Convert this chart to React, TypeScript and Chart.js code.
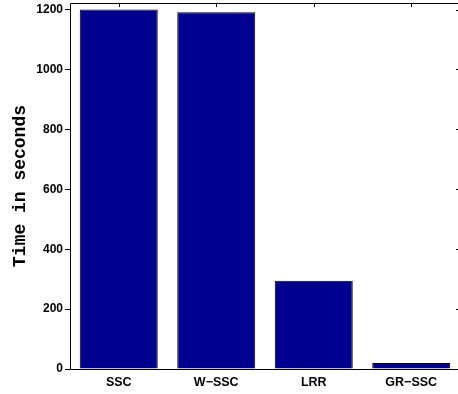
import React, { useEffect, useRef } from "react";
import { Chart, registerables } from "chart.js";

Chart.register(...registerables);

const categories = ["SSC", "W\u2212SSC", "LRR", "GR\u2212SSC"];
const timeSeconds = [1200, 1191, 295, 20];
const yTicks = [0, 200, 400, 600, 800, 1000, 1200];
const yMax = 1222;
const yTitle = "Time in seconds";

const W = 462;
const H = 394;
const LEFT = 70;
const BOTTOM_AXIS_H = 25;

const framePlugin = {
  id: "frame",
  afterDraw(chart: any) {
    const { ctx, chartArea } = chart;
    const { left, right, top, bottom } = chartArea;
    ctx.save();
    ctx.strokeStyle = "#000";
    ctx.lineWidth = 1;
    ctx.beginPath();
    ctx.moveTo(Math.round(left) + 0.5, Math.round(bottom) + 0.5);
    ctx.lineTo(Math.round(left) + 0.5, Math.round(top) + 0.5);
    ctx.lineTo(Math.round(right) + 0.5, Math.round(top) + 0.5);
    ctx.lineTo(Math.round(right) + 0.5, Math.round(bottom) + 0.5);
    ctx.lineTo(Math.round(left) + 0.5, Math.round(bottom) + 0.5);
    ctx.stroke();
    const xs = chart.scales.x;
    const ys = chart.scales.y;
    ctx.beginPath();
    for (let i = 0; i < categories.length; i++) {
      const x = Math.round(xs.getPixelForValue(i)) + 0.5;
      ctx.moveTo(x, Math.round(top));
      ctx.lineTo(x, Math.round(top) + 4);
    }
    for (const v of yTicks) {
      const y = Math.round(ys.getPixelForValue(v)) + 0.5;
      ctx.moveTo(Math.round(right), y);
      ctx.lineTo(Math.round(right) - 4, y);
    }
    ctx.stroke();
    ctx.restore();
  },
};

export default function App() {
  const ref = useRef<HTMLCanvasElement>(null);
  useEffect(() => {
    document.body.style.margin = "0";
    const chart = new Chart(ref.current!, {
      type: "bar",
      data: {
        labels: categories,
        datasets: [
          {
            data: timeSeconds,
            backgroundColor: "rgb(0,0,143)",
            borderColor: "#000",
            borderWidth: 1,
            barPercentage: 0.8,
            categoryPercentage: 1,
          },
        ],
      },
      options: {
        animation: false,
        responsive: false,
        devicePixelRatio: 1,
        layout: { padding: { top: 3, right: 2, left: 0, bottom: 0 } },
        plugins: { legend: { display: false }, tooltip: { enabled: false } },
        scales: {
          x: {
            grid: { display: false, drawTicks: false },
            border: { display: false },
            ticks: {
              color: "#000",
              padding: 6,
              font: { family: "'Liberation Sans', Arial", size: 12.5, weight: "bold" },
            },
            afterFit(scale: any) {
              scale.height = BOTTOM_AXIS_H;
              scale.paddingLeft = 0;
              scale.paddingRight = 0;
            },
          },
          y: {
            min: 0,
            max: yMax,
            grid: {
              drawOnChartArea: false,
              drawTicks: true,
              tickLength: 5,
              color: "#000",
            },
            border: { display: false },
            afterBuildTicks(scale: any) {
              scale.ticks = yTicks.map((v) => ({ value: v }));
            },
            ticks: {
              color: "#000",
              padding: 2,
              font: { family: "'Liberation Sans', Arial", size: 12, weight: "bold" },
              callback: (v: any) => String(v),
            },
            title: {
              display: true,
              text: yTitle,
              color: "#000",
              padding: { top: 10, bottom: 0 },
              font: { family: "'Liberation Mono', 'Courier New', monospace", size: 18, weight: "bold" },
            },
            afterFit(scale: any) {
              scale.width = LEFT;
              scale.paddingTop = 0;
              scale.paddingBottom = 0;
            },
          },
        },
      },
      plugins: [framePlugin],
    });
    return () => chart.destroy();
  }, []);
  return (
    <div style={{ position: "fixed", left: 0, top: 0, width: 458, height: H, overflow: "hidden", background: "#fff" }}>
      <canvas ref={ref} width={W} height={H} style={{ width: W, height: H, display: "block" }} />
    </div>
  );
}
